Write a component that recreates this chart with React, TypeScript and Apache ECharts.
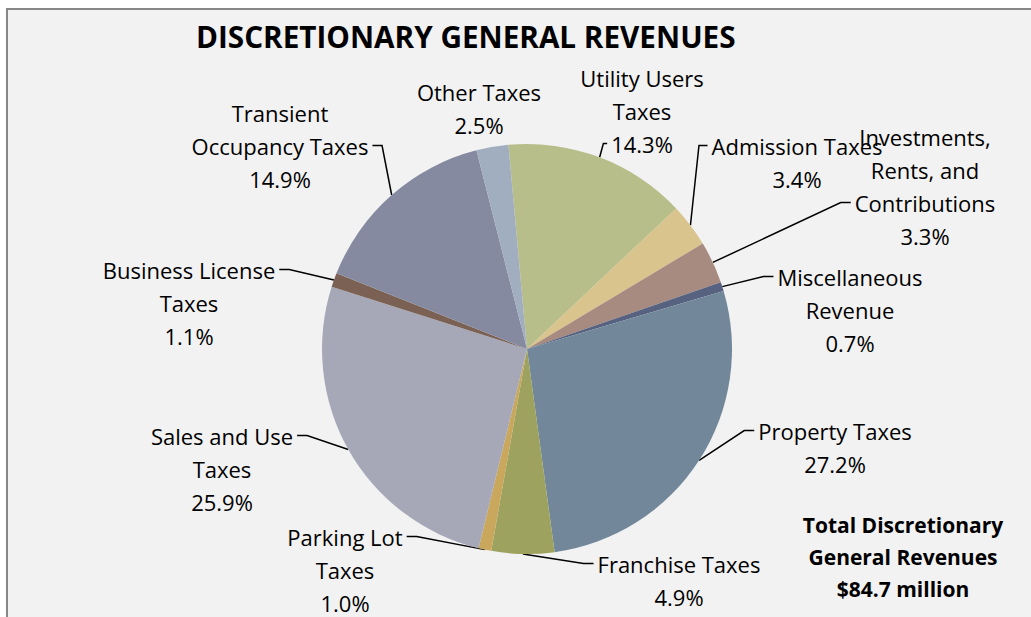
import React, { useEffect, useRef } from "react";
import * as echarts from "echarts";

const titleText = "DISCRETIONARY GENERAL REVENUES";
const categories = [
  "Utility Users Taxes",
  "Admission Taxes",
  "Investments, Rents, and Contributions",
  "Miscellaneous Revenue",
  "Property Taxes",
  "Franchise Taxes",
  "Parking Lot Taxes",
  "Sales and Use Taxes",
  "Business License Taxes",
  "Transient Occupancy Taxes",
  "Other Taxes",
];
const shares = [14.3, 3.4, 3.3, 0.7, 27.2, 4.9, 1.0, 25.9, 1.1, 14.9, 2.5];
const labelLinesText = [
  ["Utility Users", "Taxes"],
  ["Admission Taxes"],
  ["Investments,", "Rents, and", "Contributions"],
  ["Miscellaneous", "Revenue"],
  ["Property Taxes"],
  ["Franchise Taxes"],
  ["Parking Lot", "Taxes"],
  ["Sales and Use", "Taxes"],
  ["Business License", "Taxes"],
  ["Transient", "Occupancy Taxes"],
  ["Other Taxes"],
];
const totalNote = ["Total Discretionary", "General Revenues", "$84.7 million"];

const colors = [
  "#b8be8a",
  "#d8c48c",
  "#a78a80",
  "#56627f",
  "#72889a",
  "#9da35e",
  "#c9a75c",
  "#a6a8b7",
  "#7a6153",
  "#868aa0",
  "#a1aec0",
];
// label placement: [center x, top y]
const labelPlace: [number, number][] = [
  [642, 61],
  [797, 129],
  [925, 120],
  [850, 260],
  [835, 414],
  [679, 547],
  [345, 520],
  [222, 419],
  [189, 253],
  [280, 96],
  [479, 75],
];
// leader attachment: [line index, side] ; null = no leader
const leaderAttach: ([number, "left" | "right"] | null)[] = [
  [2, "left"],
  [0, "left"],
  [2, "left"],
  [0, "left"],
  [0, "left"],
  [0, "left"],
  [0, "right"],
  [0, "right"],
  [0, "right"],
  [1, "right"],
  null,
];

const FONT_SIZE = 22;
const LINE_H = 33;
const FONT = `${FONT_SIZE}px 'Open Sans'`;

export default function App() {
  const ref = useRef<HTMLDivElement>(null);
  useEffect(() => {
    if (!ref.current) return;
    const chart = echarts.init(ref.current, null, { renderer: "svg" });
    const cnv = document.createElement("canvas");
    const ctx = cnv.getContext("2d")!;
    ctx.font = FONT;
    const lineTexts = (i: number) => [
      ...labelLinesText[i],
      shares[i].toFixed(1) + "%",
    ];
    const data = categories.map((name, i) => ({
      name,
      value: shares[i],
      itemStyle: { color: colors[i] },
      labelLine: { show: leaderAttach[i] != null },
    }));
    chart.setOption({
      animation: false,
      backgroundColor: "transparent",
      title: {
        text: titleText,
        left: 191,
        top: 16,
        textStyle: {
          fontFamily: "Open Sans",
          fontWeight: "bold",
          fontSize: 29.7,
          color: "#000",
        },
      },
      graphic: [
        {
          type: "text",
          x: 903,
          y: 509,
          style: {
            text: totalNote.join("\n"),
            fill: "#000",
            font: "bold 21px 'Open Sans'",
            align: "center",
            verticalAlign: "top",
            lineHeight: 32,
          },
        },
      ],
      series: [
        {
          type: "pie",
          center: [527, 349],
          radius: 205,
          startAngle: 95.2,
          clockwise: true,
          avoidLabelOverlap: false,
          itemStyle: { borderWidth: 0 },
          label: {
            show: true,
            position: "outside",
            fontFamily: "Open Sans",
            fontSize: FONT_SIZE,
            lineHeight: LINE_H,
            color: "#000",
            align: "center",
            formatter: (p: any) => lineTexts(p.dataIndex).join("\n"),
          },
          labelLine: {
            show: true,
            length: 10,
            length2: 10,
            lineStyle: { color: "#000", width: 1.5 },
          },
          labelLayout: (p: any) => {
            const i = p.dataIndex;
            const pos = labelPlace[i];
            const out: any = {
              x: pos[0],
              y: pos[1],
              align: "center",
              verticalAlign: "top",
            };
            const att = leaderAttach[i];
            if (att && p.labelLinePoints && p.labelLinePoints[0]) {
              const lines = lineTexts(i);
              const w = ctx.measureText(lines[att[0]]).width;
              const ly = pos[1] + LINE_H * (att[0] + 0.5);
              const dir = att[1] === "left" ? -1 : 1;
              const endX = pos[0] + dir * (w / 2 + 4);
              const start = p.labelLinePoints[0];
              const stub = Math.min(10, Math.abs(endX - start[0]) * 0.5);
              out.labelLinePoints = [
                [start[0], start[1]],
                [endX + dir * stub, ly],
                [endX, ly],
              ];
            }
            return out;
          },
          emphasis: { disabled: true },
          data,
        },
      ],
    });
    return () => chart.dispose();
  }, []);
  return (
    <>
      <div
        style={{
          position: "fixed",
          left: 6,
          top: 8,
          width: 1025,
          height: 609,
          boxSizing: "border-box",
          background: "#f2f2f2",
          borderTop: "2px solid #878787",
          borderLeft: "2px solid #878787",
        }}
      />
      <div
        ref={ref}
        style={{ position: "fixed", left: 0, top: 0, width: 1031, height: 617 }}
      />
    </>
  );
}
